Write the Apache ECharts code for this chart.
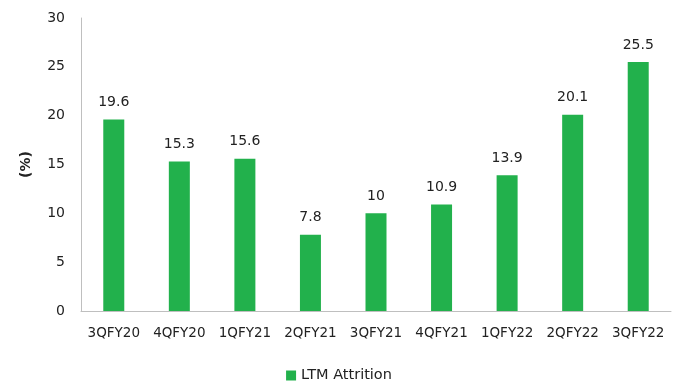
<!DOCTYPE html>
<html><head><meta charset="utf-8">
<script src="https://cdn.jsdelivr.net/npm/echarts@6/dist/echarts.min.js"></script>
<style>html,body{margin:0;padding:0;background:#fff}#c{width:678px;height:388px}</style>
</head><body><div id="c"></div>
<script>
const categories = ["3QFY20","4QFY20","1QFY21","2QFY21","3QFY21","4QFY21","1QFY22","2QFY22","3QFY22"];
const attrition = [19.6,15.3,15.6,7.8,10,10.9,13.9,20.1,25.5];
const seriesName = "LTM Attrition";
const chart = echarts.init(document.getElementById('c'));
const font = "DejaVu Sans";
chart.setOption({
  animation:false,
  grid:{left:81,right:7,top:18,bottom:77},
  legend:{bottom:0,left:'center',itemWidth:10,itemHeight:10,icon:'rect',itemGap:4,
    textStyle:{fontFamily:font,fontSize:14.5,color:'#222'},data:[seriesName]},
  xAxis:{type:'category',data:categories,
    axisLine:{lineStyle:{color:'#bfbfbf',width:1}},axisTick:{show:false},
    axisLabel:{interval:0,fontFamily:font,fontSize:13.5,color:'#222',margin:15}},
  yAxis:{type:'value',min:0,max:30,interval:5,name:'(%)',nameLocation:'middle',nameGap:48,
    nameRotate:90,nameTextStyle:{fontFamily:font,fontSize:14,fontWeight:'bold',color:'#222'},
    axisLine:{show:true,lineStyle:{color:'#bfbfbf',width:1}},axisTick:{show:false},splitLine:{show:false},
    axisLabel:{fontFamily:font,fontSize:14,color:'#222',margin:16}},
  series:[{name:seriesName,type:'bar',data:attrition,barWidth:21,
    itemStyle:{color:'#22b14c'},
    label:{show:true,position:'top',distance:10,fontFamily:font,fontSize:14,color:'#222'}}]
});
</script></body></html>
